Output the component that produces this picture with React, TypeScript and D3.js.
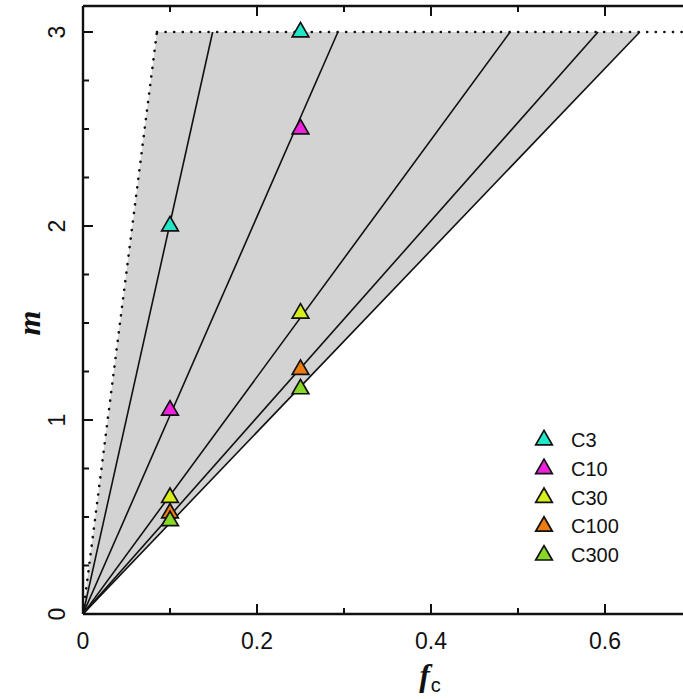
import React, { useRef, useEffect } from 'react';
import * as d3 from 'd3';

// f_c where each model line reaches m = 3 (lines pass through origin)
const lineEnds = [0.149, 0.293, 0.491, 0.592, 0.640];
// dotted boundary (left edge of shaded region)
const boundaryEnd = 0.085;
const mTop = 3;

const seriesNames = ["C3", "C10", "C30", "C100", "C300"];
const seriesColors = ["#22e6c6", "#ee22dd", "#d8ee1a", "#ee7a14", "#8ad826"];
const fValues = [0.1, 0.25];
const mValues = [
  [2.0, 3.0],
  [1.05, 2.5],
  [0.6, 1.55],
  [0.52, 1.26],
  [0.48, 1.16],
];

const xMajor = [0, 0.2, 0.4, 0.6];
const xMinor = [0.1, 0.3, 0.5];
const yMajor = [0, 1, 2, 3];
const yMinor = [0.25, 0.5, 0.75, 1.25, 1.5, 1.75, 2.25, 2.5, 2.75];

export default function App() {
  const ref = useRef<SVGSVGElement>(null);
  const width = 683;
  const height = 699;

  useEffect(() => {
    const svg = d3.select(ref.current);
    svg.selectAll("*").remove();

    const x = d3.scaleLinear().domain([0, 0.7]).range([83, 692]);
    const y = d3.scaleLinear().domain([0, 3.134]).range([614, 6]);

    svg.append("defs").append("clipPath").attr("id", "plotclip")
      .append("rect")
      .attr("x", x(0)).attr("y", y(3.134))
      .attr("width", x(0.7) - x(0)).attr("height", y(0) - y(3.134));

    const plot = svg.append("g").attr("clip-path", "url(#plotclip)");

    // shaded region
    const region: [number, number][] = [
      [0, 0], [boundaryEnd, mTop], [lineEnds[lineEnds.length - 1], mTop]
    ];
    plot.append("path")
      .attr("d", d3.line()(region.map(d => [x(d[0]), y(d[1])]) as [number, number][]) + "Z")
      .attr("fill", "#d3d3d3");

    // model lines
    lineEnds.forEach(f => {
      plot.append("line")
        .attr("x1", x(0)).attr("y1", y(0))
        .attr("x2", x(f)).attr("y2", y(mTop))
        .attr("stroke", "#111").attr("stroke-width", 1.6);
    });

    // dotted boundaries
    const dotted = (x1: number, y1: number, x2: number, y2: number) =>
      plot.append("line")
        .attr("x1", x1).attr("y1", y1).attr("x2", x2).attr("y2", y2)
        .attr("stroke", "#111").attr("stroke-width", 2.6)
        .attr("stroke-linecap", "round")
        .attr("stroke-dasharray", "0.1,8.5");
    dotted(x(0), y(0), x(boundaryEnd), y(mTop));
    dotted(x(boundaryEnd), y(mTop), x(0.7), y(mTop));

    // triangles
    const tri = d3.symbol().type(d3.symbolTriangle).size(120);
    const drawTri = (g: any, cx: number, cy: number, color: string) =>
      g.append("path")
        .attr("d", tri())
        .attr("transform", `translate(${cx},${cy})`)
        .attr("fill", color)
        .attr("stroke", "#111")
        .attr("stroke-width", 1.7);

    seriesNames.forEach((name, i) => {
      fValues.forEach((f, j) => {
        drawTri(svg, x(f), y(mValues[i][j]), seriesColors[i]);
      });
    });

    // axes frame
    const axisG = svg.append("g").attr("stroke", "#111").attr("stroke-width", 2.4);
    axisG.append("line").attr("x1", x(0)).attr("x2", x(0.7)).attr("y1", y(0)).attr("y2", y(0));
    axisG.append("line").attr("x1", x(0)).attr("x2", x(0.7)).attr("y1", y(3.134)).attr("y2", y(3.134));
    axisG.append("line").attr("x1", x(0)).attr("x2", x(0)).attr("y1", y(0)).attr("y2", y(3.134));

    const tickG = svg.append("g").attr("stroke", "#111").attr("stroke-width", 2);
    xMajor.concat(xMinor).forEach(v => {
      const len = xMajor.includes(v) ? 10 : 6;
      tickG.append("line").attr("x1", x(v)).attr("x2", x(v)).attr("y1", y(0)).attr("y2", y(0) - len);
      tickG.append("line").attr("x1", x(v)).attr("x2", x(v)).attr("y1", y(3.134)).attr("y2", y(3.134) + len);
    });
    yMajor.concat(yMinor).forEach(v => {
      const len = yMajor.includes(v) ? 10 : 6;
      tickG.append("line").attr("x1", x(0)).attr("x2", x(0) + len).attr("y1", y(v)).attr("y2", y(v));
    });

    // tick labels
    const font = "'Liberation Sans', Arial, sans-serif";
    svg.append("g").selectAll("text").data(xMajor).enter().append("text")
      .attr("x", d => x(d)).attr("y", 649)
      .attr("text-anchor", "middle")
      .attr("font-family", font).attr("font-size", 23).attr("fill", "#111")
      .text(d => d === 0 ? "0" : d3.format(".1f")(d));
    svg.append("g").selectAll("text").data(yMajor).enter().append("text")
      .attr("transform", d => `translate(65,${y(d)}) rotate(-90)`)
      .attr("text-anchor", "middle")
      .attr("font-family", font).attr("font-size", 23).attr("fill", "#111")
      .text(d => String(d));

    // axis titles
    svg.append("text")
      .attr("transform", `translate(40,${y(1.5)}) rotate(-90)`)
      .attr("text-anchor", "middle")
      .attr("font-family", "'Liberation Serif', serif").attr("font-style", "italic")
      .attr("font-weight", "bold")
      .attr("font-size", 32).attr("fill", "#111")
      .text("m");
    const xt = svg.append("text")
      .attr("x", 430).attr("y", 686)
      .attr("text-anchor", "middle")
      .attr("fill", "#111");
    xt.append("tspan")
      .attr("font-family", "'Liberation Serif', serif").attr("font-style", "italic")
      .attr("font-weight", "bold").attr("font-size", 32)
      .text("f");
    xt.append("tspan")
      .attr("font-family", font).attr("font-size", 20).attr("dy", 6).attr("dx", 1)
      .text("c");

    // legend
    const legend = svg.append("g");
    seriesNames.forEach((name, i) => {
      const ly = 440 + i * 28.8;
      drawTri(legend, 544, ly, seriesColors[i]);
      legend.append("text")
        .attr("x", 571).attr("y", ly + 7)
        .attr("font-family", font).attr("font-size", 20).attr("fill", "#111")
        .text(name);
    });
  }, []);

  return (
    <svg ref={ref} width={width} height={height}
      style={{ position: "absolute", left: 0, top: 0, background: "white" }} />
  );
}
